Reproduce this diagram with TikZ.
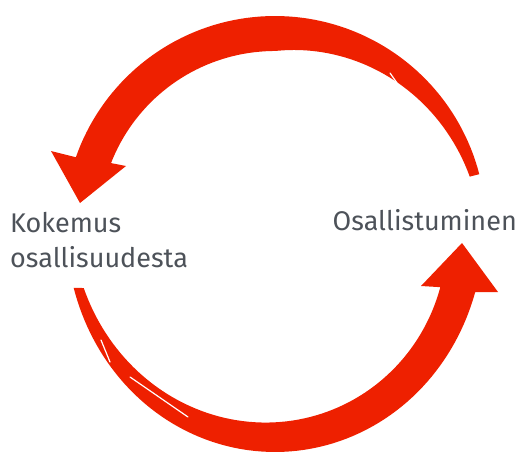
\documentclass[tikz,border=0pt]{standalone}
\usepackage{fontspec}
\setmainfont{Fira Sans}
\usetikzlibrary{positioning}

\definecolor{arrowred}{RGB}{238,32,0}
\definecolor{textgrey}{RGB}{77,82,89}

\begin{document}
\begin{tikzpicture}[
        x=1pt, y=-1pt,
        band/.style={fill=arrowred},
        streak/.style={draw=white, line width=1.2pt, line cap=round},
        cyclelabel/.style={inner sep=0pt, align=left, text=textgrey, font=\fontsize{27}{35}\selectfont}
    ]
    \useasboundingbox (0,0) rectangle (522,452);
    \coordinate (c) at (275,227);

    % upper arrow: thin at the right, head at the left
    \fill[band] plot[domain=-14.5:-160.7, samples=80, variable=\t] ({275+211*cos(\t)}, {227+211*sin(\t)})
        -- (51,151) -- (80,203) -- (126,166)
        -- plot[domain=-158.7:-14.5, samples=80, variable=\t] ({275+(176+max(0,\t+90)/3)*cos(\t)}, {227+(176+max(0,\t+90)/3)*sin(\t)})
        -- cycle;

    % lower arrow: thin at the left, head at the right
    \fill[band] plot[domain=163.2:18, samples=80, variable=\t] ({275+(209+16*sin(\t)^2)*cos(\t)}, {227+(209+16*sin(\t)^2)*sin(\t)})
        -- (498,292) -- (462,243) -- (421,286)
        -- plot[domain=20:162.3, samples=80, variable=\t] ({275+(175+25*(\t-20)/142+8*sin(\t)^2)*cos(\t)}, {227+(175+25*(\t-20)/142+8*sin(\t)^2)*sin(\t)})
        -- cycle;

    % brush streaks
    \draw[streak] (390,73) -- (404,93);
    \draw[streak] (130,377) -- (188,417);
    \draw[streak] (101,340) -- (110,362);

    \node[cyclelabel, anchor=base west] (kokemus) at (10,267) {Kokemus\\osallisuudesta};
    \node[cyclelabel, anchor=base east] (osallistuminen) at (517,230) {Osallistuminen};
\end{tikzpicture}
\end{document}
